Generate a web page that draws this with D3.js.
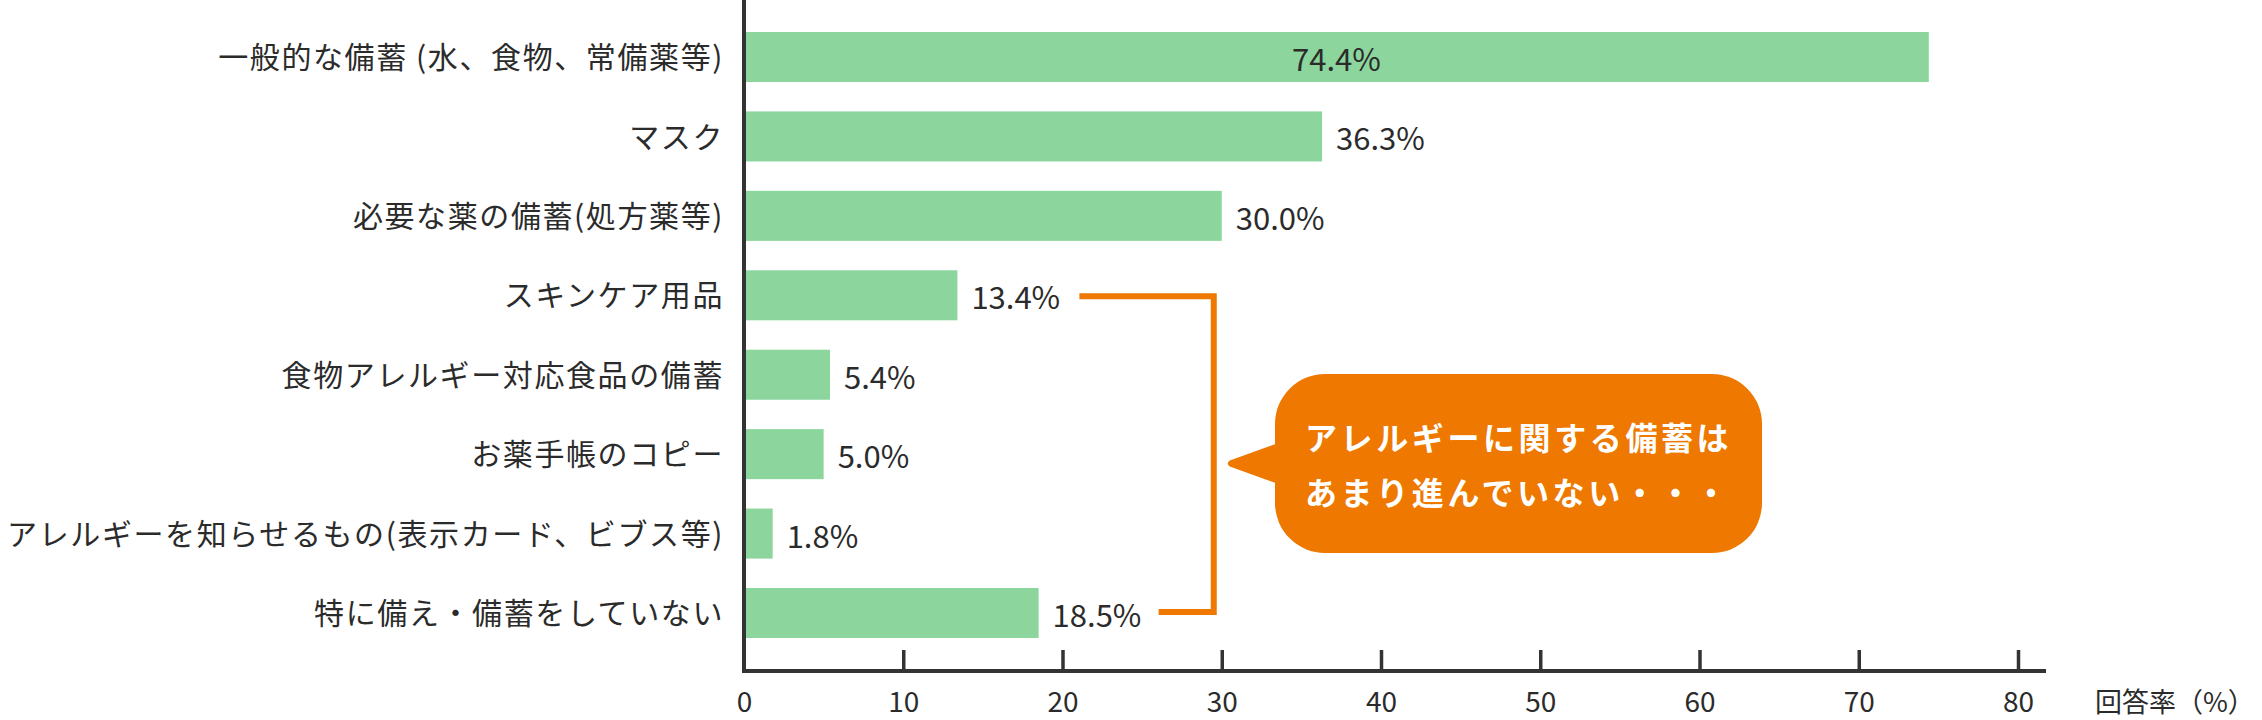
<!DOCTYPE html>
<html>
<head>
<meta charset="utf-8">
<script src="https://cdn.jsdelivr.net/npm/d3@7"></script>
<style>
  body { margin: 0; background: #fff; }
  text { font-family: "Noto Sans CJK JP", "Noto Sans", sans-serif; fill: #2b2b2b; }
</style>
</head>
<body>
<div id="chart"></div>
<script>
// data
var categories = [
  "一般的な備蓄 (水、食物、常備薬等)",
  "マスク",
  "必要な薬の備蓄(処方薬等)",
  "スキンケア用品",
  "食物アレルギー対応食品の備蓄",
  "お薬手帳のコピー",
  "アレルギーを知らせるもの(表示カード、ビブス等)",
  "特に備え・備蓄をしていない"
];
var values = [74.4, 36.3, 30.0, 13.4, 5.4, 5.0, 1.8, 18.5];
var xTicks = [0, 10, 20, 30, 40, 50, 60, 70, 80];
var axisTitle = "回答率（%）";
var bracketRows = ["スキンケア用品", "特に備え・備蓄をしていない"];
var calloutLines = ["アレルギーに関する備蓄は", "あまり進んでいない・・・"];

var svgWidth = 2262;
var svgHeight = 720;
var axisY = 671;

var svg = d3.select("#chart")
  .append("svg")
  .attr("width", svgWidth)
  .attr("height", svgHeight);

var x = d3.scaleLinear()
  .domain([0, 80])
  .range([744, 2018]);

var y = d3.scaleBand()
  .domain(categories)
  .range([17.3, 652.7])
  .paddingInner(0.37)
  .paddingOuter(0.185);

// bars
svg.append("g").selectAll("rect")
  .data(values)
  .enter()
  .append("rect")
  .attr("x", x(0))
  .attr("y", (d, i) => y(categories[i]))
  .attr("width", d => x(d) - x(0))
  .attr("height", y.bandwidth())
  .attr("fill", "#8cd69e");

// value labels
svg.append("g").selectAll("text")
  .data(values)
  .enter()
  .append("text")
  .attr("x", (d, i) => i === 0 ? x(d / 2) : x(d) + 14)
  .attr("y", (d, i) => y(categories[i]) + y.bandwidth() / 2)
  .attr("dy", "0.45em")
  .attr("text-anchor", (d, i) => i === 0 ? "middle" : "start")
  .style("font-size", "31px")
  .text(d => d.toFixed(1) + "%");

// category labels
svg.append("g").selectAll("text")
  .data(categories)
  .enter()
  .append("text")
  .attr("x", x(0) - 20)
  .attr("y", d => y(d) + y.bandwidth() / 2)
  .attr("dy", "0.37em")
  .attr("text-anchor", "end")
  .style("font-size", "30px")
  .style("letter-spacing", "1.6px")
  .text(d => d);

// x axis
var bottomAxis = d3.axisBottom(x)
  .tickValues(xTicks)
  .tickSizeInner(-21)
  .tickSizeOuter(0);

var axisG = svg.append("g")
  .attr("transform", `translate(0, ${axisY})`)
  .call(bottomAxis);

axisG.select(".domain").remove();
axisG.selectAll(".tick line")
  .attr("stroke", "#333")
  .attr("stroke-width", 3.5)
  .filter(d => d === 0).remove();
axisG.selectAll(".tick text")
  .attr("y", 41)
  .attr("dy", 0)
  .attr("fill", "#2b2b2b")
  .style("font-size", "28px")
  .style("font-family", "'Noto Sans CJK JP', sans-serif");

svg.append("line")
  .attr("x1", x(0) - 2)
  .attr("x2", x(80) + 28)
  .attr("y1", axisY)
  .attr("y2", axisY)
  .attr("stroke", "#333")
  .attr("stroke-width", 4);

svg.append("line")
  .attr("x1", x(0))
  .attr("x2", x(0))
  .attr("y1", 0)
  .attr("y2", axisY + 2)
  .attr("stroke", "#333")
  .attr("stroke-width", 4);

svg.append("text")
  .attr("x", 2095)
  .attr("y", axisY + 41)
  .style("font-size", "27px")
  .text(axisTitle);

// orange bracket
var orange = "#ee7800";
var vx = x(30) - 8;
var topRow = categories.indexOf(bracketRows[0]);
var botRow = categories.indexOf(bracketRows[1]);
var topY = y(bracketRows[0]) + y.bandwidth() / 2 + 1;
var botY = y(bracketRows[1]) + y.bandwidth() / 2 - 1;
var topStart = x(values[topRow]) + 14 + 92 + 16;
var botStart = x(values[botRow]) + 14 + 92 + 14;

svg.append("path")
  .attr("d", `M${topStart},${topY} H${vx} V${botY} H${botStart}`)
  .attr("fill", "none")
  .attr("stroke", orange)
  .attr("stroke-width", 6);

// callout bubble
var bx = 1275, by = 374, bw = 487, bh = 179, r = 50;
var tipX = vx + 12, tipY = by + bh / 2;

var callout = svg.append("g");
callout.append("path")
  .attr("d", `M${bx + 2},${tipY - 20} L${tipX + 4},${tipY - 3} Q${tipX},${tipY} ${tipX + 4},${tipY + 3} L${bx + 2},${tipY + 20} Z`)
  .attr("fill", orange);
callout.append("rect")
  .attr("x", bx)
  .attr("y", by)
  .attr("width", bw)
  .attr("height", bh)
  .attr("rx", r)
  .attr("ry", r)
  .attr("fill", orange);

callout.selectAll("text")
  .data(calloutLines)
  .enter()
  .append("text")
  .attr("x", bx + 30)
  .attr("y", (d, i) => by + 76 + i * 55)
  .style("font-size", "32px")
  .style("font-weight", "700")
  .style("letter-spacing", "3.6px")
  .style("fill", "#fff")
  .text(d => d);
</script>
</body>
</html>
